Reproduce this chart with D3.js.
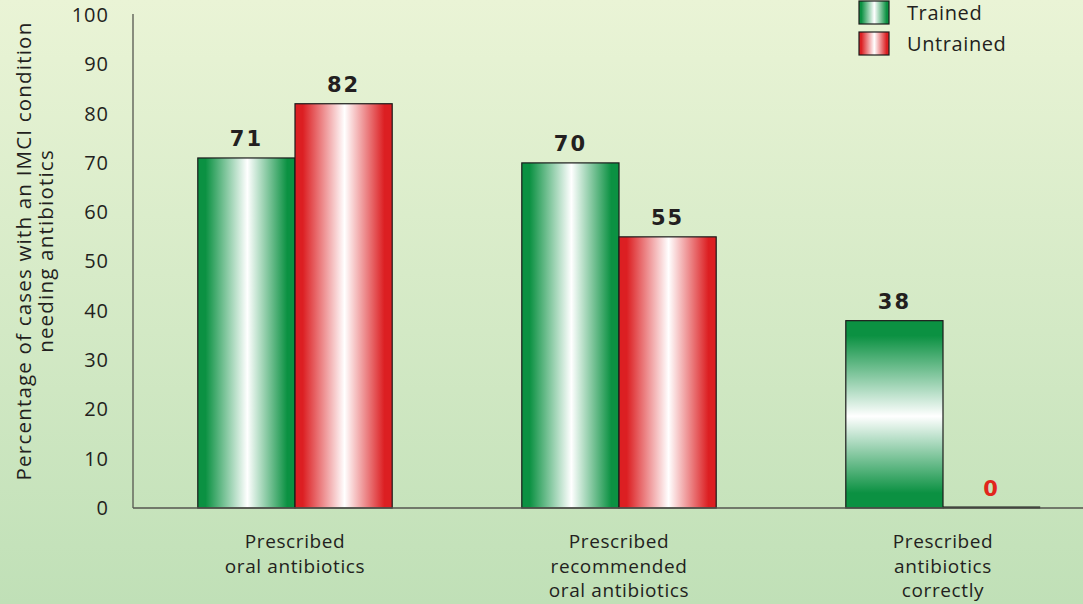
<!DOCTYPE html>
<html>
<head>
<meta charset="utf-8">
<script src="https://cdn.jsdelivr.net/npm/d3@7/dist/d3.min.js"></script>
<style>
    html, body { margin: 0; padding: 0; }
    body { width: 1083px; height: 604px; overflow: hidden; }
    text { font-family: "Open Sans", "DejaVu Sans", sans-serif; fill: #231f20; }
    .value { font-family: "DejaVu Sans", sans-serif; font-weight: bold; letter-spacing: 2px; }
</style>
</head>
<body>
<div id="chart"></div>
<script>

// the data
var categories = ["oral", "recommended", "correctly"];
var categoryLabels = [
    ["Prescribed", "oral antibiotics"],
    ["Prescribed", "recommended", "oral antibiotics"],
    ["Prescribed", "antibiotics", "correctly"]
];
var seriesNames = ["Trained", "Untrained"];
var trainedValues = [71, 70, 38];
var untrainedValues = [82, 55, 0];
var yTicks = [0, 10, 20, 30, 40, 50, 60, 70, 80, 90, 100];
var yTitle = ["Percentage of cases with an IMCI condition", "needing antibiotics"];

(function() {

    var width = 1083,
        height = 604,
        left = 133,
        top = 15,
        baseline = 508;

    var svg = d3.select("#chart").append("svg")
        .attr("width", width)
        .attr("height", height);

    var defs = svg.append("defs");

    // background wash, pale at top, greener at the bottom
    var bg = defs.append("linearGradient")
        .attr("id", "bg")
        .attr("x1", 0).attr("y1", 0).attr("x2", 0).attr("y2", 1);
    bg.append("stop").attr("offset", "0%").attr("stop-color", "#eaf4d6");
    bg.append("stop").attr("offset", "100%").attr("stop-color", "#c0e0b7");

    // shiny bar fills: colour at the edges, white in the middle
    function shine(id, colour, vertical) {
        var g = defs.append("linearGradient")
            .attr("id", id)
            .attr("x1", 0).attr("y1", 0)
            .attr("x2", vertical ? 0 : 1)
            .attr("y2", vertical ? 1 : 0);
        g.append("stop").attr("offset", "0%").attr("stop-color", colour);
        g.append("stop").attr("offset", "8%").attr("stop-color", colour);
        g.append("stop").attr("offset", "51%").attr("stop-color", "#ffffff");
        g.append("stop").attr("offset", "92%").attr("stop-color", colour);
        g.append("stop").attr("offset", "100%").attr("stop-color", colour);
    }
    shine("green", "#0b9142", false);
    shine("red", "#dc1f22", false);
    shine("greenV", "#0b9142", true);

    svg.append("rect")
        .attr("width", width)
        .attr("height", height)
        .attr("fill", "url(#bg)");

    var x = d3.scaleBand()
        .domain(categories)
        .range([left, left + 3 * 324])
        .paddingInner(0.4)
        .paddingOuter(0.2);

    var x1 = d3.scaleBand()
        .domain(seriesNames)
        .range([0, x.bandwidth()]);

    var y = d3.scaleLinear()
        .domain([0, 100])
        .range([baseline, top]);

    // y axis: labels only, plus the spine
    var yAxis = svg.append("g")
        .attr("transform", "translate(" + left + ",0)")
        .call(d3.axisLeft(y).tickValues(yTicks).tickSize(0).tickPadding(24));
    yAxis.select(".domain").remove();
    yAxis.selectAll("text")
        .style("font-size", "20px")
        .style("letter-spacing", "1px")
        .attr("fill", "#231f20");

    svg.append("line")
        .attr("x1", left).attr("x2", left)
        .attr("y1", y(100) - 1).attr("y2", baseline)
        .attr("stroke", "#55564f")
        .attr("stroke-width", 1.3);

    // y title, two rotated lines
    var title = svg.append("text")
        .attr("transform", "translate(31," + 251 + ") rotate(-90)")
        .attr("text-anchor", "middle")
        .style("font-size", "20.5px")
        .style("letter-spacing", "1.2px");
    title.selectAll("tspan")
        .data(yTitle)
        .enter().append("tspan")
        .attr("x", 0)
        .attr("dy", function(d, i) { return i ? 22 : 0; })
        .text(function(d) { return d; });

    // flatten to one record per bar
    var bars = [];
    categories.forEach(function(c, i) {
        bars.push({cat: c, i: i, series: "Trained", value: trainedValues[i]});
        bars.push({cat: c, i: i, series: "Untrained", value: untrainedValues[i]});
    });

    function fillFor(d) {
        if (d.series === "Untrained") return "url(#red)";
        return d.i === 2 ? "url(#greenV)" : "url(#green)";
    }

    var groups = svg.selectAll(".bar")
        .data(bars)
        .enter().append("g")
        .attr("class", "bar")
        .attr("transform", function(d) { return "translate(" + (x(d.cat) + x1(d.series)) + ",0)"; });

    groups.filter(function(d) { return d.value > 0; })
        .append("rect")
        .attr("x", 0)
        .attr("y", function(d) { return y(d.value); })
        .attr("width", x1.bandwidth())
        .attr("height", function(d) { return baseline - y(d.value); })
        .attr("fill", fillFor)
        .attr("stroke", "#1b1b1b")
        .attr("stroke-width", 1.2);

    // a zero bar is just a thick line on the base
    groups.filter(function(d) { return d.value === 0; })
        .append("line")
        .attr("x1", 0)
        .attr("x2", x1.bandwidth())
        .attr("y1", y(0) - 0.5)
        .attr("y2", y(0) - 0.5)
        .attr("stroke", "#111")
        .attr("stroke-width", 2.2);

    groups.append("text")
        .attr("class", "value")
        .attr("x", x1.bandwidth() / 2)
        .attr("y", function(d) { return y(d.value) - 12; })
        .attr("text-anchor", "middle")
        .style("font-size", "21px")
        .style("fill", function(d) { return d.value === 0 ? "#e1251b" : "#231f20"; })
        .text(function(d) { return d.value; });

    // x axis base line
    svg.append("line")
        .attr("x1", left).attr("x2", width)
        .attr("y1", baseline).attr("y2", baseline)
        .attr("stroke", "#55564f")
        .attr("stroke-width", 1.3);

    // category labels under each group
    var cats = svg.selectAll(".cat")
        .data(categories)
        .enter().append("text")
        .attr("class", "cat")
        .attr("text-anchor", "middle")
        .attr("transform", function(d) { return "translate(" + (x(d) + x.bandwidth() / 2) + ",548)"; })
        .style("font-size", "19px")
        .style("letter-spacing", "0.6px");
    cats.selectAll("tspan")
        .data(function(d, i) { return categoryLabels[i]; })
        .enter().append("tspan")
        .attr("x", 0)
        .attr("dy", function(d, i) { return i ? 24.5 : 0; })
        .text(function(d) { return d; });

    // legend, top right
    var legend = svg.selectAll(".legend")
        .data(seriesNames)
        .enter().append("g")
        .attr("class", "legend")
        .attr("transform", function(d, i) { return "translate(859," + (1 + i * 31) + ")"; });

    legend.append("rect")
        .attr("width", 30)
        .attr("height", 23)
        .attr("fill", function(d) { return d === "Trained" ? "url(#green)" : "url(#red)"; })
        .attr("stroke", "#1b1b1b")
        .attr("stroke-width", 1.2);

    legend.append("text")
        .attr("x", 48)
        .attr("y", 19)
        .style("font-size", "20px")
        .style("letter-spacing", "0.6px")
        .text(function(d) { return d; });

})();
</script>
</body>
</html>
